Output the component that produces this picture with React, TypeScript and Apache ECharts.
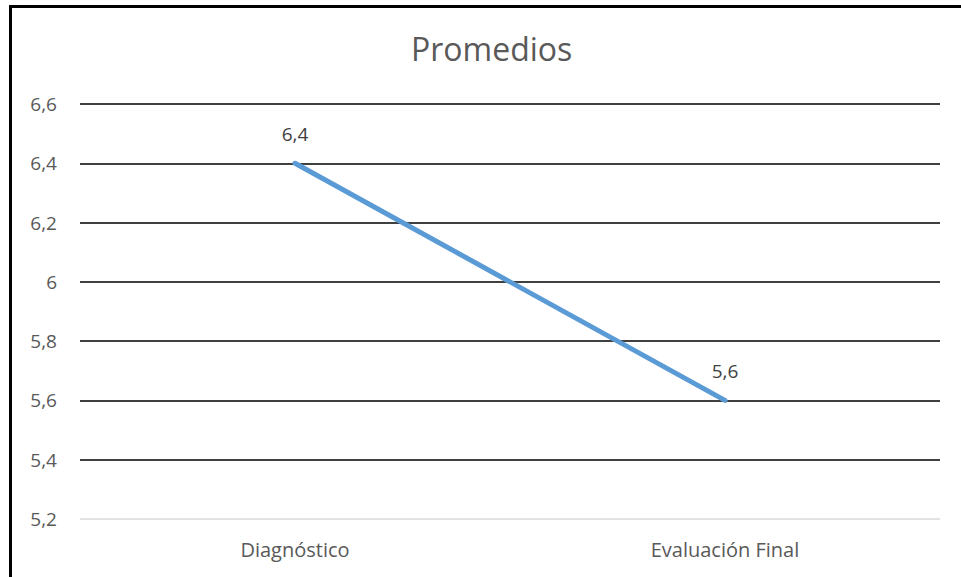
import React, { useEffect, useRef } from "react";
import * as echarts from "echarts";

const categories = ["Diagnóstico", "Evaluación Final"];
const promedios = [6.4, 5.6];
const yMin = 5.2;
const yMax = 6.6;
const yStep = 0.2;
const titleText = "Promedios";

const fmt = (v: number) => String(Number(v.toFixed(1))).replace(".", ",");

export default function App() {
  const ref = useRef<HTMLDivElement>(null);
  useEffect(() => {
    const chart = echarts.init(ref.current!, null, { renderer: "svg" });
    const font = "'Open Sans', 'Noto Sans', sans-serif";
    chart.setOption({
      animation: false,
      backgroundColor: "#ffffff",
      title: {
        text: titleText,
        left: 406,
        top: 27,
        textStyle: { color: "#595959", fontSize: 32, fontWeight: "normal", fontFamily: font },
      },
      grid: { left: 80, right: 21, top: 104, bottom: 58 },
      xAxis: {
        type: "category",
        data: categories,
        boundaryGap: true,
        axisLine: { show: false },
        axisTick: { show: false },
        axisLabel: { color: "#595959", fontSize: 20, fontFamily: font, margin: 20 },
      },
      yAxis: {
        type: "value",
        min: yMin,
        max: yMax,
        interval: yStep,
        axisLine: { show: false },
        axisTick: { show: false },
        axisLabel: { color: "#595959", fontSize: 19, fontFamily: font, margin: 23, formatter: (v: number) => fmt(v) },
        splitLine: {
          lineStyle: {
            width: 1.5,
            color: ["#d9d9d9", "#000000", "#000000", "#000000", "#000000", "#000000", "#000000", "#000000"],
          },
        },
      },
      series: [
        {
          type: "line",
          data: promedios,
          symbol: "circle",
          symbolSize: 1,
          itemStyle: { color: "#5B9BD5" },
          lineStyle: { color: "#5B9BD5", width: 5, cap: "round" },
          label: {
            show: true,
            position: "top",
            distance: 19,
            color: "#404040",
            fontSize: 19,
            fontFamily: font,
            formatter: (p: any) => fmt(p.value),
          },
        },
      ],
      graphic: [
        { type: "rect", shape: { x: 9, y: 5, width: 3, height: 572 }, style: { fill: "#000" } },
        { type: "rect", shape: { x: 9, y: 5, width: 952, height: 3 }, style: { fill: "#000" } },
      ],
    });
    return () => chart.dispose();
  }, []);
  return (
    <div
      ref={ref}
      style={{ position: "fixed", left: 0, top: 0, width: 961, height: 577 }}
    />
  );
}
